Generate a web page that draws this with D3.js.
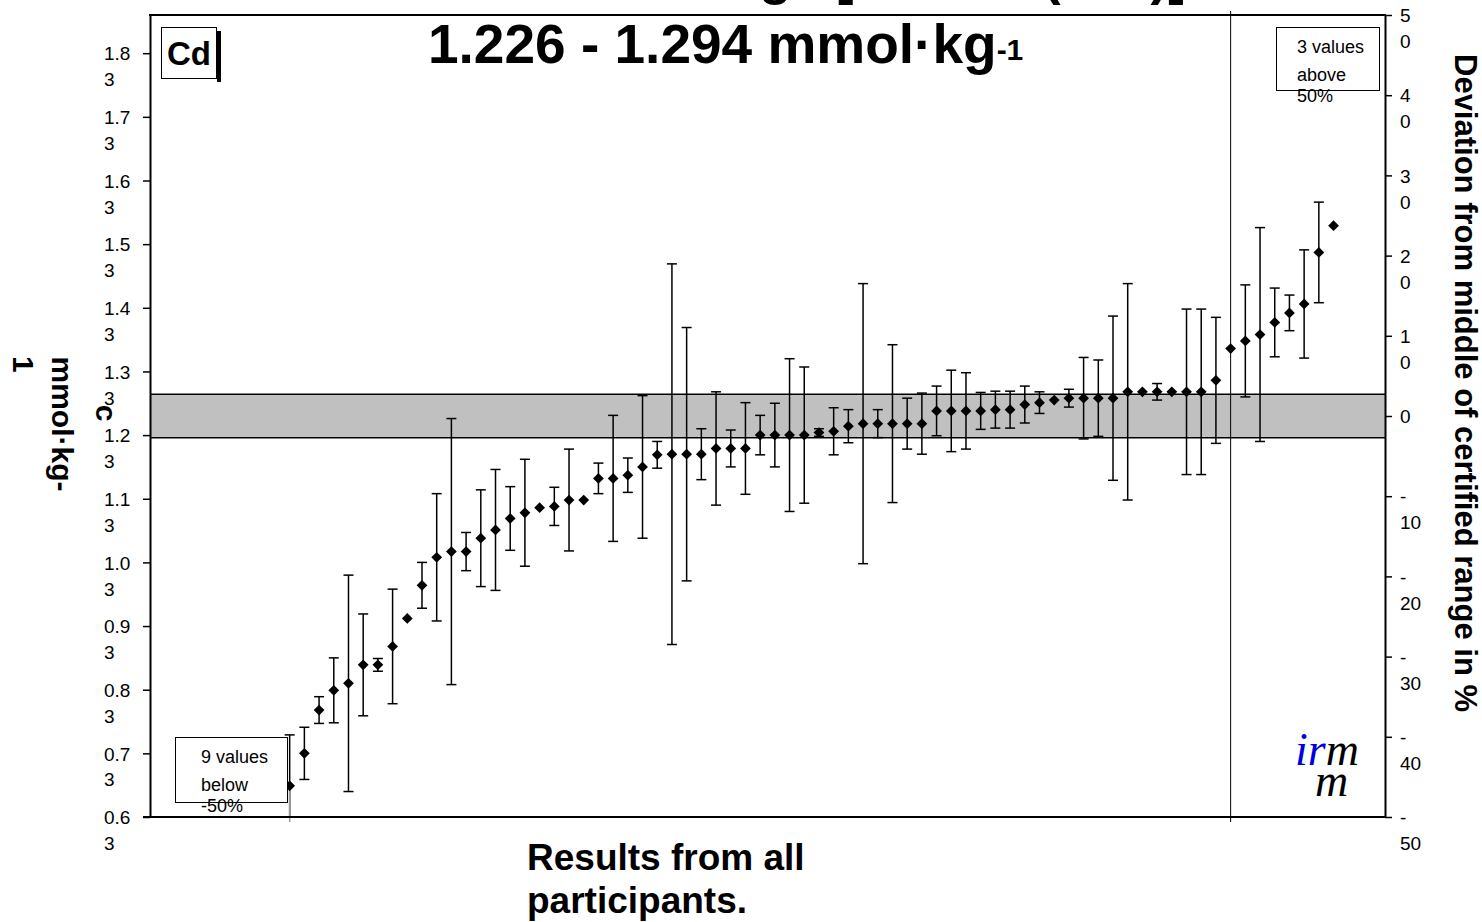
<!DOCTYPE html>
<html>
<head>
<meta charset="utf-8">
<script src="https://cdnjs.cloudflare.com/ajax/libs/d3/7.8.5/d3.min.js"></script>
<style>
    body { margin: 0; background: #fff; }
    .chart text { font-family: Arial, "Liberation Sans", sans-serif; }
</style>
</head>
<body>
<div class="chart"></div>
<script>
/**
 * Data
 */
var belowCount = 9;   // results below -50 %, not drawn
var aboveCount = 3;   // results above +50 %, not drawn
var values = [
    0.679, 0.730, 0.798, 0.829, 0.840, 0.869, 0.869, 0.898, 0.942, 0.994,
    1.038, 1.047, 1.047, 1.068, 1.081, 1.099, 1.108, 1.116, 1.118, 1.128,
    1.128, 1.162, 1.162, 1.167, 1.180, 1.199, 1.200, 1.200, 1.200, 1.209,
    1.209, 1.209, 1.230, 1.230, 1.230, 1.230, 1.234, 1.236, 1.244, 1.248,
    1.248, 1.248, 1.248, 1.248, 1.268, 1.268, 1.268, 1.268, 1.270, 1.270,
    1.278, 1.281, 1.285, 1.288, 1.288, 1.288, 1.288, 1.298, 1.298, 1.298,
    1.298, 1.298, 1.298, 1.316, 1.366, 1.378, 1.388, 1.407, 1.422, 1.436,
    1.517, 1.559
];
var uncertainties = [
    0.080, 0.041, 0.021, 0.051, 0.170, 0.080, 0.010, 0.090, 0, 0.036,
    0.100, 0.209, 0.030, 0.076, 0.095, 0.050, 0.084, 0, 0.030, 0.080,
    0, 0.024, 0.099, 0.027, 0.112, 0.021, 0.299, 0.199, 0.040, 0.089,
    0.029, 0.072, 0.031, 0.050, 0.120, 0.107, 0.006, 0.037, 0.026, 0.220,
    0.022, 0.124, 0.040, 0.048, 0.039, 0.064, 0.060, 0.029, 0.029, 0.029,
    0.029, 0.017, 0, 0.014, 0.064, 0.060, 0.129, 0.170, 0, 0.013,
    0, 0.130, 0.130, 0.099, 0, 0.088, 0.168, 0.054, 0.028, 0.085,
    0.079, 0
];
var certifiedRange = [1.226, 1.294];
var certifiedMiddle = 1.26;
var leftTicks = [0.63, 0.73, 0.83, 0.93, 1.03, 1.13, 1.23, 1.33, 1.43, 1.53, 1.63, 1.73, 1.83];
var rightTicks = [-50, -40, -30, -20, -10, 0, 10, 20, 30, 40, 50];
var rightTickLabels = [['-', '50'], ['-', '40'], ['-', '30'], ['-', '20'], ['-', '10'], ['0'],
    ['1', '0'], ['2', '0'], ['3', '0'], ['4', '0'], ['5', '0']];
var markerLines = [9, 73];   // category slots of the two thin vertical lines

var margin = {
    top: 15,
    right: 97,
    bottom: 105,
    left: 150
};
var width = 1482 - margin.left - margin.right;
var height = 922 - margin.top - margin.bottom;

var root = d3.select('.chart')
    .append('svg')
    .attr('width', 1482)
    .attr('height', 922);

var svg = root.append('g')
    .attr('transform', 'translate(' + margin.left + ', ' + margin.top + ')');

/**
 * Scales
 */
var xScale = d3.scaleBand()
    .domain(d3.range(belowCount + values.length + aboveCount))
    .range([0, width]);

var yScale = d3.scaleLinear()
    .domain([certifiedMiddle * 0.5, certifiedMiddle * 1.5])
    .range([height, 0]);

var devScale = d3.scaleLinear()
    .domain([-50, 50])
    .range([height, 0]);

var cx = i => xScale(belowCount + i) + xScale.bandwidth() / 2;

/**
 * Certified range band
 */
svg.append('rect')
    .attr('x', 0)
    .attr('width', width)
    .attr('y', yScale(certifiedRange[1]))
    .attr('height', yScale(certifiedRange[0]) - yScale(certifiedRange[1]))
    .style('fill', '#c0c0c0');

svg.selectAll('.range-line')
    .data(certifiedRange)
    .enter()
    .append('line')
    .attr('class', 'range-line')
    .attr('x1', 0)
    .attr('x2', width)
    .attr('y1', d => yScale(d))
    .attr('y2', d => yScale(d))
    .style('stroke', '#000')
    .style('stroke-width', 1.5);

/**
 * Vertical marker lines
 */
svg.append('line')
    .attr('x1', xScale(markerLines[1]) + xScale.bandwidth() / 2)
    .attr('x2', xScale(markerLines[1]) + xScale.bandwidth() / 2)
    .attr('y1', -4)
    .attr('y2', height + 5)
    .style('stroke', '#000')
    .style('stroke-width', 1);

/**
 * Error bars
 */
var yMin = yScale.domain()[0], yMax = yScale.domain()[1];
var bars = svg.selectAll('.err')
    .data(values.map((v, i) => ({ i: i, v: v, u: uncertainties[i] })).filter(d => d.u > 0))
    .enter()
    .append('g')
    .attr('class', 'err')
    .style('stroke', '#000')
    .style('stroke-width', 1.5);

bars.append('line')
    .attr('x1', d => cx(d.i))
    .attr('x2', d => cx(d.i))
    .attr('y1', d => yScale(Math.min(d.v + d.u, yMax)))
    .attr('y2', d => yScale(Math.max(d.v - d.u, yMin)));

bars.filter(d => d.v + d.u <= yMax)
    .append('line')
    .attr('x1', d => cx(d.i) - 5)
    .attr('x2', d => cx(d.i) + 5)
    .attr('y1', d => yScale(d.v + d.u))
    .attr('y2', d => yScale(d.v + d.u));

bars.filter(d => d.v - d.u >= yMin)
    .append('line')
    .attr('x1', d => cx(d.i) - 5)
    .attr('x2', d => cx(d.i) + 5)
    .attr('y1', d => yScale(d.v - d.u))
    .attr('y2', d => yScale(d.v - d.u));

// left marker line starts at the first drawn result
svg.append('line')
    .attr('x1', xScale(markerLines[0]) + xScale.bandwidth() / 2)
    .attr('x2', xScale(markerLines[0]) + xScale.bandwidth() / 2)
    .attr('y1', yScale(values[0]))
    .attr('y2', height + 5)
    .style('stroke', '#999')
    .style('stroke-width', 1.5);

/**
 * Points
 */
var diamond = d3.symbol().type(d3.symbolSquare).size(58);
svg.selectAll('.pt')
    .data(values)
    .enter()
    .append('path')
    .attr('class', 'pt')
    .attr('d', diamond)
    .attr('transform', (d, i) => `translate(${cx(i)}, ${yScale(d)}) rotate(45)`)
    .style('fill', '#000');

/**
 * Axes
 */
var yAxis = d3.axisLeft(yScale)
    .tickValues(leftTicks)
    .tickSize(7)
    .tickSizeOuter(0)
    .tickFormat(d3.format('.2f'));

var gLeft = svg.append('g').call(yAxis);
gLeft.selectAll('text').each(function (d) {
    var s = d3.format('.2f')(d);
    var t = d3.select(this).text('').attr('x', -46).attr('dy', null).style('text-anchor', 'start');
    t.append('tspan').attr('x', -46).attr('dy', '0.35em').text(s.slice(0, 3));
    t.append('tspan').attr('x', -46).attr('dy', 26).text(s.slice(3));
});

var devAxis = d3.axisRight(devScale)
    .tickValues(rightTicks)
    .tickSize(7)
    .tickSizeOuter(0)
    .tickFormat('');

var gRight = svg.append('g')
    .attr('transform', `translate(${width}, 0)`)
    .call(devAxis);
gRight.selectAll('.tick text').each(function (d, i) {
    var t = d3.select(this).attr('x', 15).attr('dy', null).style('text-anchor', 'start');
    rightTickLabels[i].forEach((line, k) => {
        t.append('tspan').attr('x', 15).attr('dy', k === 0 ? '0.35em' : 26).text(line);
    });
});

[gLeft, gRight].forEach(g => {
    g.attr('font-size', 19).attr('font-family', null);
    g.select('.domain').style('stroke-width', 2);
    g.selectAll('.tick line').style('stroke-width', 1.5);
    g.selectAll('text').style('fill', '#000');
});

// top and bottom frame
svg.append('line')
    .attr('x1', -1).attr('x2', width + 1)
    .attr('y1', 0).attr('y2', 0)
    .style('stroke', '#000').style('stroke-width', 2);
svg.append('line')
    .attr('x1', -7).attr('x2', width + 1)
    .attr('y1', height).attr('y2', height)
    .style('stroke', '#000').style('stroke-width', 2);

/**
 * Titles
 */
var top1 = root.append('text')
    .attr('x', 447)
    .attr('y', -6)
    .style('font-size', '53px')
    .style('font-weight', 'bold');
top1.append('tspan').text('Certified range [Uc ');
top1.append('tspan').attr('x', 1043).text('(k=2)]:');

var title = root.append('text')
    .attr('x', 428)
    .attr('y', 63)
    .style('font-size', '55px')
    .style('font-weight', 'bold');
title.append('tspan').text('1.226 - 1.294 mmol·kg');
title.append('tspan').attr('dy', -3).style('font-size', '30px').text('-1');

root.append('text')
    .attr('transform', 'translate(1455, 383) rotate(90)')
    .style('text-anchor', 'middle')
    .style('font-size', '31px')
    .style('font-weight', 'bold')
    .text('Deviation from middle of certified range in %');

var yTitle = [
    { text: 'c', x: 96, y: 413, anchor: 'middle' },
    { text: 'mmol·kg-', x: 52, y: 424, anchor: 'middle' },
    { text: '1', x: 13, y: 356, anchor: 'start' }
];
root.selectAll('.ytitle')
    .data(yTitle)
    .enter()
    .append('text')
    .attr('class', 'ytitle')
    .attr('transform', d => `translate(${d.x}, ${d.y}) rotate(90)`)
    .style('text-anchor', d => d.anchor)
    .style('font-size', '30px')
    .style('font-weight', 'bold')
    .text(d => d.text);

var xTitle = root.append('text')
    .style('font-size', '37px')
    .style('font-weight', 'bold');
xTitle.append('tspan').attr('x', 527).attr('y', 870).text('Results from all');
xTitle.append('tspan').attr('x', 527).attr('y', 913).text('participants.');

/**
 * Boxes
 */
root.append('rect')
    .attr('x', 217).attr('y', 31).attr('width', 4).attr('height', 51)
    .style('fill', '#000');
root.append('rect')
    .attr('x', 161.5).attr('y', 27.5).attr('width', 55).attr('height', 51)
    .style('fill', '#fff').style('stroke', '#000').style('stroke-width', 1);
root.append('text')
    .attr('x', 189).attr('y', 65)
    .style('text-anchor', 'middle')
    .style('font-size', '33px')
    .style('font-weight', 'bold')
    .text('Cd');

var notes = [
    { x: 1276.5, y: 27.5, w: 103, h: 63, tx: 1297, lines: ['3 values', 'above', '50%'] },
    { x: 175.5, y: 737.5, w: 112, h: 65, tx: 201, lines: ['9 values', 'below', '-50%'] }
];
notes.forEach(n => {
    root.append('rect')
        .attr('x', n.x).attr('y', n.y).attr('width', n.w).attr('height', n.h)
        .style('fill', '#fff').style('stroke', '#000').style('stroke-width', 1);
    var t = root.append('text').style('font-size', '18px');
    [25, 53, 74].forEach((dy, k) => {
        t.append('tspan').attr('x', n.tx).attr('y', n.y + dy).text(n.lines[k]);
    });
});

/**
 * Logo
 */
var logo = root.append('text')
    .style('font-family', '"Liberation Serif", serif')
    .style('font-style', 'italic')
    .style('font-size', '46px');
logo.append('tspan').attr('x', 1295).attr('y', 765).style('fill', '#0000dd').text('ir');
logo.append('tspan').style('fill', '#000').text('m');
logo.append('tspan').attr('x', 1315).attr('y', 796).style('fill', '#000').text('m');
</script>
</body>
</html>
